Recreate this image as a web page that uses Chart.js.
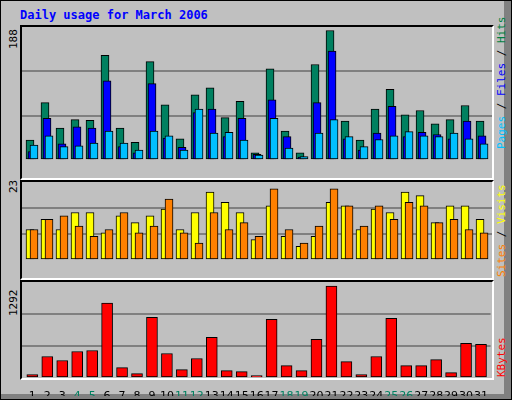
<!DOCTYPE html>
<html>
<head>
<meta charset="utf-8">
<script src="https://cdn.jsdelivr.net/npm/chart.js@4"></script>
<style>
  body { margin: 0; }
  #frame { position: relative; width: 510px; height: 398px; background: #c0c0c0; border: 1px solid #000; overflow: hidden; }
  .edgeR { position: absolute; right: 0; top: 0; width: 7px; height: 100%; background: #808080; }
  .edgeB { position: absolute; left: 0; bottom: 0; height: 5px; width: 100%; background: #808080; }
  .panel { position: absolute; border-top: 2px solid #000; border-left: 2px solid #000; border-right: 2px solid #fff; border-bottom: 2px solid #fff; box-sizing: border-box; }
  .cv { position: absolute; }
  .title { position: absolute; left: 19px; top: 7px; font: bold 12px "DejaVu Sans Mono", monospace; color: #0000ff; }
  .vl { position: absolute; font: 11px "DejaVu Sans Mono", monospace; transform-origin: 0 0; transform: rotate(-90deg); white-space: nowrap; }
</style>
</head>
<body>
<div id="frame">
  <div class="edgeR"></div><div class="edgeB"></div>
  <div class="title">Daily usage for March 2006</div>
  <div class="panel" style="left:19px;top:24px;width:474px;height:155px"></div>
  <div class="panel" style="left:19px;top:179px;width:474px;height:100px"></div>
  <div class="panel" style="left:19px;top:279px;width:474px;height:100px"></div>
  <canvas id="c1" class="cv" style="left:21px;top:26px;width:470px;height:151px"></canvas>
  <canvas id="c2" class="cv" style="left:21px;top:181px;width:470px;height:96px"></canvas>
  <canvas id="c3" class="cv" style="left:21px;top:281px;width:470px;height:114px"></canvas>
  <div class="vl" style="left:6px;top:48px">188</div>
  <div class="vl" style="left:6px;top:192px">23</div>
  <div class="vl" style="left:6px;top:315px">1292</div>
  <div class="vl" style="left:494px;top:148px"><span style="color:#00c0ff">Pages</span> / <span style="color:#0000ff">Files</span> / <span style="color:#008040">Hits</span></div>
  <div class="vl" style="left:494px;top:276px"><span style="color:#ff8000">Sites</span> / <span style="color:#ffff00">Visits</span></div>
  <div class="vl" style="left:494px;top:376px"><span style="color:#ff0000">KBytes</span></div>
</div>
<script>
const days = [];
for (let d = 1; d <= 31; d++) days.push(d);
const weekends = [4, 5, 11, 12, 18, 19, 25, 26];

const hits   = [28, 81, 45, 57, 56, 148, 45, 25, 139, 78, 30, 92, 102, 60, 83, 10, 129, 41, 10, 135, 183, 55, 28, 72, 100, 64, 70, 51, 57, 77, 55];
const files  = [12, 59, 23, 47, 45, 112, 19, 10, 108, 31, 18, 67, 72, 33, 59, 8, 85, 33, 4, 81, 154, 30, 14, 38, 76, 33, 39, 36, 30, 55, 34];
const pages  = [21, 34, 19, 20, 24, 41, 24, 14, 41, 34, 14, 72, 38, 39, 28, 7, 59, 17, 5, 38, 57, 33, 19, 29, 34, 40, 34, 33, 38, 30, 23];
const visits = [9, 12, 9, 14, 14, 8, 13, 11, 13, 15, 9, 14, 20, 17, 14, 6, 16, 7, 4, 7, 17, 16, 9, 15, 14, 20, 19, 11, 16, 16, 12];
const sites  = [9, 12, 13, 10, 7, 9, 14, 8, 10, 18, 8, 5, 14, 9, 11, 7, 21, 9, 5, 10, 21, 16, 10, 16, 12, 17, 16, 11, 12, 9, 8];
const kbytes = [45, 289, 235, 357, 370, 1007, 140, 59, 818, 330, 113, 262, 547, 99, 86, 32, 791, 167, 99, 520, 1238, 221, 45, 289, 804, 167, 167, 248, 72, 465, 452];

function pts(arr, off) { return arr.map((v, i) => ({ x: days[i] + off, y: v })); }
function ds(arr, off, color, w) {
  return { data: pts(arr, off), backgroundColor: color, borderColor: '#000', borderWidth: 1, borderSkipped: false, barThickness: w, grouped: false };
}
function yScale(max) {
  return {
    min: 0, max: max,
    ticks: { display: false, stepSize: max / 3 },
    grid: { drawTicks: false, lineWidth: 2, color: c => (c.tick.value > 0 && c.tick.value < max) ? '#808080' : 'rgba(0,0,0,0)' },
    border: { display: false }
  };
}
function xScale(show) {
  return {
    type: 'linear', min: 0.5, max: 31.83, offset: false,
    display: show,
    grid: { display: false },
    border: { display: false },
    afterBuildTicks: s => { s.ticks = days.map(d => ({ value: d + 0.19 })); },
    afterFit: s => { s.height = 18; },
    ticks: {
      autoSkip: false, maxRotation: 0, padding: 4,
      font: { family: 'DejaVu Sans', size: 11 },
      color: c => weekends.includes(Math.round(c.tick.value - 0.19)) ? '#008060' : '#000',
      callback: v => String(Math.round(v - 0.19))
    }
  };
}
const common = {
  responsive: false, animation: false,
  layout: { padding: 0 },
  plugins: { legend: { display: false }, tooltip: { enabled: false } }
};
function make(id, w, h, datasets, max, showX) {
  const c = document.getElementById(id);
  c.width = w; c.height = h;
  new Chart(c, {
    type: 'bar',
    data: { datasets: datasets },
    options: Object.assign({}, common, { scales: { x: xScale(showX), y: yScale(max) } })
  });
}

make('c1', 470, 151, [
  ds(pages, 0.3, '#00c0ff', 8),
  ds(files, 0.167, '#0000ff', 8),
  ds(hits, 0.033, '#008060', 8)
], 188, false);
make('c2', 470, 96, [
  ds(sites, 0.3, '#ff8000', 8),
  ds(visits, 0.033, '#ffff00', 8)
], 23, false);
make('c3', 470, 114, [
  ds(kbytes, 0.19, '#ff0000', 11)
], 1292, true);
</script>
</body>
</html>
